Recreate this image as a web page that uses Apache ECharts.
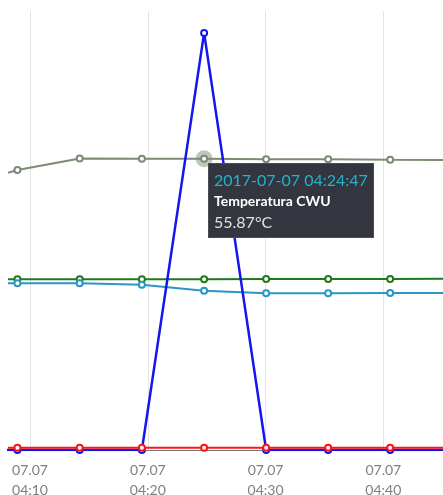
<!DOCTYPE html>
<html>
<head>
<meta charset="utf-8">
<script src="https://cdn.jsdelivr.net/npm/echarts@6/dist/echarts.min.js"></script>
<style>
html,body{margin:0;padding:0;background:#fff;}
#chart{width:443px;height:495px;}
</style>
</head>
<body>
<div id="chart"></div>
<script>
// ---- data ----
const times = [
  '2017-07-07 04:03:40', '2017-07-07 04:08:56', '2017-07-07 04:14:13',
  '2017-07-07 04:19:30', '2017-07-07 04:24:47', '2017-07-07 04:30:03',
  '2017-07-07 04:35:19', '2017-07-07 04:40:35', '2017-07-07 04:45:51'
];
const tempCWU   = [50.2, 53.70, 55.93, 55.87, 55.87, 55.75, 55.75, 55.68, 55.62];
const tempGreen = [32.74, 32.74, 32.74, 32.74, 32.74, 32.78, 32.80, 32.82, 32.85];
const tempBlue  = [31.97, 31.97, 31.97, 31.70, 30.55, 30.05, 30.05, 30.11, 30.11];
const pulse     = [0, 0, 0, 0, 80, 0, 0, 0, 0];
const redSeries = [0.44, 0.44, 0.44, 0.44, 0.44, 0.44, 0.44, 0.44, 0.44];
const tickTimes = ['2017-07-07 04:10:00', '2017-07-07 04:20:00', '2017-07-07 04:30:00', '2017-07-07 04:40:00'];
const axisMin = '2017-07-07 04:08:13';
const axisMax = '2017-07-07 04:45:04';
const highlightIndex = 4;

function ms(t){ return echarts.time.parse(t).getTime(); }
function pairs(arr){ return arr.map((v,i)=>[ms(times[i]), v]); }
function pad(n){ return (n<10?'0':'')+n; }
const tickValues = tickTimes.map(ms);

const chart = echarts.init(document.getElementById('chart'), null, {renderer:'canvas'});
const lineBase = {
  type:'line', symbol:'emptyCircle', symbolSize:6, showSymbol:true,
  animation:false, emphasis:{disabled:true}
};
chart.setOption({
  animation:false,
  grid:{left:9, right:0, top:11, bottom:45, containLabel:false, outerBoundsMode:'none'},
  tooltip:{
    trigger:'item', triggerOn:'none', alwaysShowContent:true,
    transitionDuration:0,
    position:[208,163],
    backgroundColor:'#33363e', borderColor:'#4a4d55', borderWidth:1,
    padding:[5,5],
    extraCssText:'box-shadow:none;border-radius:0;',
    formatter:function(p){
      const d = new Date(p.value[0]);
      const ds = d.getFullYear()+'-'+pad(d.getMonth()+1)+'-'+pad(d.getDate())+' '+
                 pad(d.getHours())+':'+pad(d.getMinutes())+':'+pad(d.getSeconds());
      return '<div style="font-family:Lato;line-height:21px;white-space:nowrap;">'+
        '<div style="color:#22b4cc;font-size:16px;">'+ds+'</div>'+
        '<div style="color:#ffffff;font-size:14px;font-weight:bold;">'+p.seriesName+'</div>'+
        '<div style="color:#e2e2e2;font-size:16px;">'+p.value[1].toFixed(2)+'°C</div></div>';
    }
  },
  xAxis:{
    type:'value', min:ms(axisMin), max:ms(axisMax),
    axisLine:{show:true, onZero:false, lineStyle:{color:'#777', width:1}},
    axisTick:{show:false, customValues:tickValues},
    splitLine:{show:true, lineStyle:{color:'#e4e4e4', width:1}},
    axisLabel:{
      customValues:tickValues,
      margin:10, color:'#7f7f7f', fontFamily:'Lato', fontSize:14, lineHeight:20,
      formatter:function(v){
        const d = new Date(v);
        return pad(d.getDate())+'.'+pad(d.getMonth()+1)+'\n'+pad(d.getHours())+':'+pad(d.getMinutes());
      }
    }
  },
  yAxis:{
    type:'value', min:0, max:84.2, show:false,
    splitLine:{show:false}
  },
  series:[
    {type:'scatter', name:'halo', silent:true, z:1, symbolSize:17,
     itemStyle:{color:'rgba(122,138,114,0.6)'},
     data:[[ms(times[highlightIndex]), tempCWU[highlightIndex]]], tooltip:{show:false}},
    Object.assign({}, lineBase, {name:'Temperatura CWU', z:2, data:pairs(tempCWU),
      itemStyle:{color:'#7b8b74'}, lineStyle:{color:'#7b8b74', width:2}}),
    Object.assign({}, lineBase, {name:'Temperatura zasilania', z:3, data:pairs(tempGreen),
      itemStyle:{color:'#1f7a1f'}, lineStyle:{color:'#1f7a1f', width:2}}),
    Object.assign({}, lineBase, {name:'Temperatura powrotu', z:4, data:pairs(tempBlue),
      itemStyle:{color:'#2a95c6'}, lineStyle:{color:'#2a95c6', width:2}}),
    Object.assign({}, lineBase, {name:'Grzałka', z:5, data:pairs(pulse),
      itemStyle:{color:'#1515f0'}, lineStyle:{color:'#1515f0', width:2.5}}),
    Object.assign({}, lineBase, {name:'Pompa', z:6, data:pairs(redSeries),
      itemStyle:{color:'#ff1414'}, lineStyle:{color:'#ff1414', width:2}})
  ]
});
setTimeout(function(){
  chart.dispatchAction({type:'showTip', seriesIndex:1, dataIndex:highlightIndex});
}, 50);
</script>
</body>
</html>
